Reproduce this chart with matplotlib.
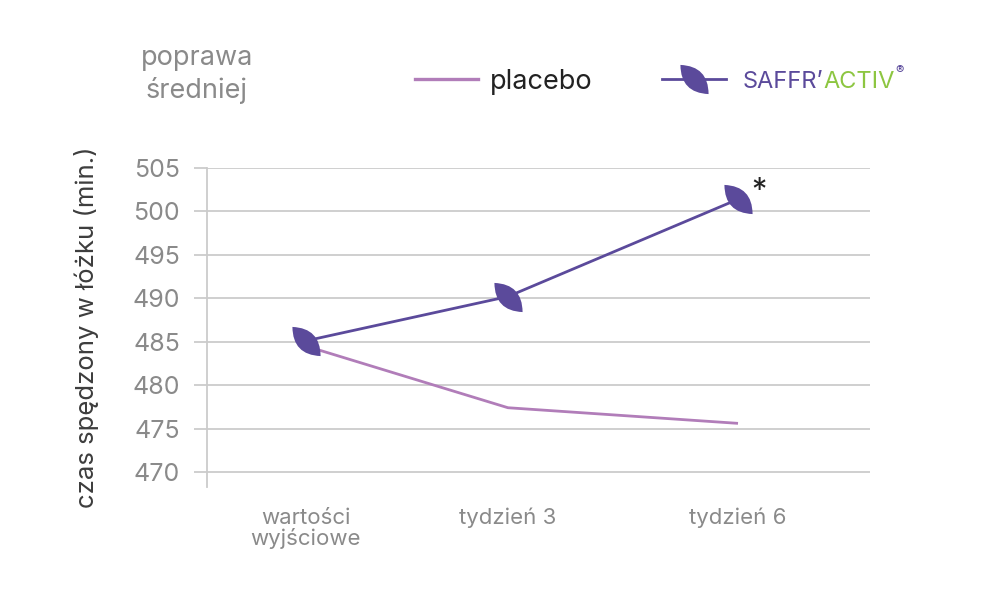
import matplotlib

matplotlib.use("Agg")
import matplotlib.pyplot as plt
from matplotlib.lines import Line2D
from matplotlib.path import Path
import numpy as np

# data
categories = ["wartości\nwyjściowe", "tydzień 3", "tydzień 6"]
category_pos = [0.0, 0.935, 2.0]
placebo = [484.5, 477.4, 475.6]
saffractiv = [485.1, 490.2, 501.4]
y_ticks = [470, 475, 480, 485, 490, 495, 500, 505]

PLACEBO_COLOR = "#b17db9"
SAFFR_COLOR = "#5b4a9b"
ACTIV_GREEN = "#8dc641"
GRID_COLOR = "#cbcbcb"
TICK_TEXT = "#8a8a8a"

plt.rcParams["font.family"] = ["Inter", "DejaVu Sans"]


def leaf_marker():
    """Lens shaped leaf, tips pointing upper-left / lower-right."""
    verts = [(-1.0, 0.0), (0.0, 0.95), (1.0, 0.0), (0.0, -0.95), (-1.0, 0.0), (-1.0, 0.0)]
    codes = [Path.MOVETO, Path.CURVE3, Path.CURVE3, Path.CURVE3, Path.CURVE3, Path.CLOSEPOLY]
    ang = np.deg2rad(-46)
    rot = np.array([[np.cos(ang), -np.sin(ang)], [np.sin(ang), np.cos(ang)]])
    verts = [tuple(rot @ np.array(v)) for v in verts]
    return Path(verts, codes)


LEAF = leaf_marker()

W, H = 991, 593
fig = plt.figure(figsize=(W / 100, H / 100), dpi=100)

# axes box in pixels: left 207, right 870, top 168, bottom 487
ax = fig.add_axes([207 / W, 1 - 487 / H, (870 - 207) / W, (487 - 168) / H])
ax.set_xlim(-0.458, 2.611)
ax.set_ylim(470 - 15 / 8.686, 505)

ax.set_yticks(y_ticks)
ax.set_yticklabels([str(t) for t in y_ticks])
ax.yaxis.grid(True, color=GRID_COLOR, linewidth=1.3)
ax.set_axisbelow(True)
ax.tick_params(axis="y", length=9.4, width=1.3, color=GRID_COLOR,
               labelsize=18, labelcolor=TICK_TEXT, pad=10)
ax.set_xticks(category_pos)
ax.set_xticklabels(categories, fontsize=16, color=TICK_TEXT, linespacing=1.0)
ax.tick_params(axis="x", length=0, pad=15)

for side in ["top", "right", "bottom"]:
    ax.spines[side].set_visible(False)
ax.spines["left"].set_color(GRID_COLOR)
ax.spines["left"].set_linewidth(1.3)

ax.set_ylabel("czas spędzony w łóżku (min.)", fontsize=18.5, color="#3d3d3d", labelpad=24)

ax.plot(category_pos, placebo, color=PLACEBO_COLOR, linewidth=2.0, solid_capstyle="butt", zorder=3)
ax.plot(category_pos, saffractiv, color=SAFFR_COLOR, linewidth=2.0, zorder=4,
        marker=LEAF, markersize=21, markerfacecolor=SAFFR_COLOR, markeredgewidth=0)

ax.annotate("*", (category_pos[-1], saffractiv[-1]), xytext=(15, 6), textcoords="offset points",
            fontsize=22, color="#222222", ha="center", va="center")

# header text
fig.text(197 / W, 1 - 58 / H, "poprawa", fontsize=19.5, color="#8a8a8a", ha="center", va="center")
fig.text(197 / W, 1 - 90 / H, "średniej", fontsize=19.5, color="#8a8a8a", ha="center", va="center")

# legend drawn by hand
ly = 1 - 79 / H
fig.add_artist(Line2D([415 / W, 478 / W], [ly, ly], color=PLACEBO_COLOR, linewidth=2.4))
fig.text(490 / W, ly, "placebo", fontsize=19.5, color="#222222", ha="left", va="center_baseline")
fig.add_artist(Line2D([662 / W, 726 / W], [ly, ly], color=SAFFR_COLOR, linewidth=2.0))
fig.add_artist(Line2D([694 / W], [ly], marker=LEAF, markersize=21, color=SAFFR_COLOR,
                      markeredgewidth=0, linestyle="none"))

fig.canvas.draw()
renderer = fig.canvas.get_renderer()
x = 743 / W
for piece, color, size, dy in [("SAFFR’", SAFFR_COLOR, 17, 0.0),
                               ("ACTIV", ACTIV_GREEN, 17, 0.0),
                               ("®", SAFFR_COLOR, 9, 9 / H)]:
    t = fig.text(x, ly + dy, piece, fontsize=size, color=color, ha="left", va="center_baseline")
    bb = t.get_window_extent(renderer)
    x += bb.width / W

fig.savefig("out.png", dpi=100, facecolor="white")
